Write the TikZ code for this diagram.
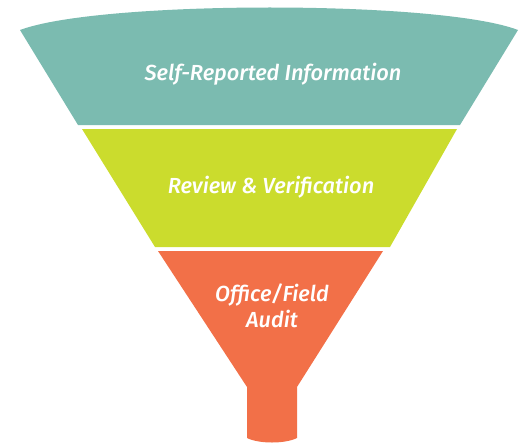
\documentclass[tikz,border=0pt]{standalone}
\usepackage{fontspec}
\setmainfont{Fira Sans}
\newfontfamily\stagefont{Fira Sans Medium Italic}

\definecolor{funnelteal}{RGB}{123,187,176}
\definecolor{funnelgreen}{RGB}{203,220,45}
\definecolor{funnelorange}{RGB}{242,112,72}

\tikzset{stage label/.style={text=white, font=\stagefont\fontsize{12.4}{14.5}\selectfont, align=center, inner sep=0pt}}

\begin{document}
\begin{tikzpicture}[x=0.02cm, y=-0.02cm]

    \useasboundingbox (0,0) rectangle (527,446);

    % Top section
    \fill[funnelteal] (20,30) .. controls (100,0) and (440,0) .. (518,30) -- (460,125) -- (78,125) -- cycle;

    % Middle section
    \fill[funnelgreen] (82,129) -- (457,129) -- (390,247) -- (155,247) -- cycle;

    % Bottom section and spout
    \fill[funnelorange] (158,251) -- (383,251) -- (297,387) -- (297,438)
        .. controls (285,444) and (259,444) .. (247,438) -- (247,387) -- cycle;

    % Labels
    \node[stage label] (selfrep) at (273,74) {Self-Reported Information};
    \node[stage label] (review) at (271,187) {Review \& Verification};
    \node[stage label] (audit) at (272,306) {Office/Field\\Audit};

\end{tikzpicture}
\end{document}
